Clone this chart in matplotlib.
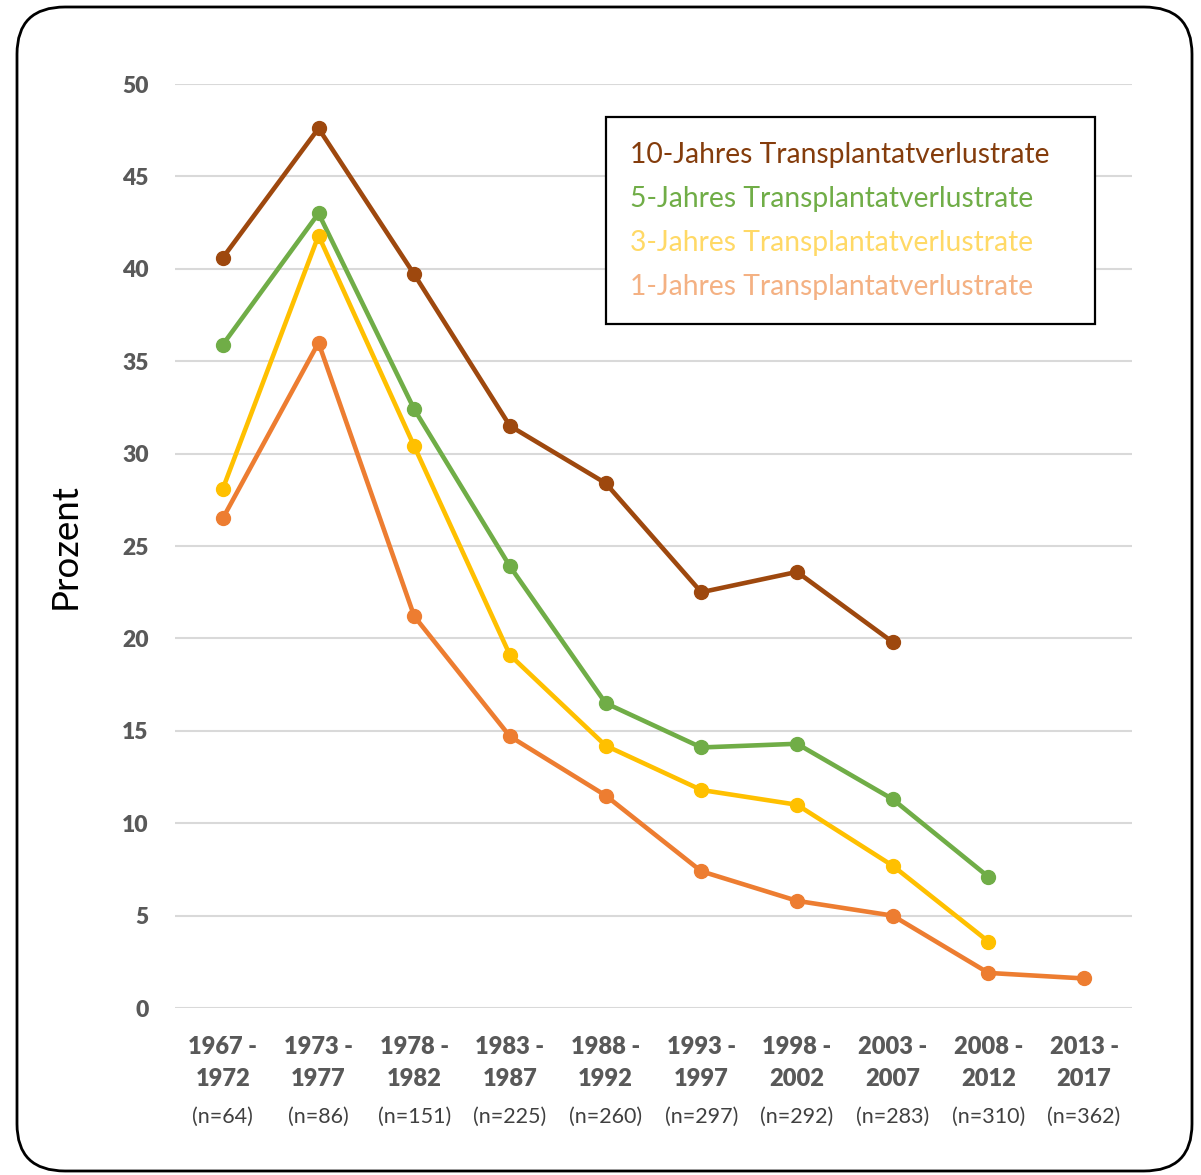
import numpy as np
import matplotlib.pyplot as plt
from matplotlib.patches import FancyBboxPatch, Rectangle

plt.rcParams['font.family'] = ['Lato', 'DejaVu Sans']

# Zeiträume und Fallzahlen
perioden = ["1967 -\n1972", "1973 -\n1977", "1978 -\n1982", "1983 -\n1987", "1988 -\n1992",
            "1993 -\n1997", "1998 -\n2002", "2003 -\n2007", "2008 -\n2012", "2013 -\n2017"]
fallzahlen = ["(n=64)", "(n=86)", "(n=151)", "(n=225)", "(n=260)",
              "(n=297)", "(n=292)", "(n=283)", "(n=310)", "(n=362)"]

# Transplantatverlustraten in Prozent
rate_10j = [40.6, 47.6, 39.7, 31.5, 28.4, 22.5, 23.6, 19.8]
rate_5j = [35.9, 43.0, 32.4, 23.9, 16.5, 14.1, 14.3, 11.3, 7.1]
rate_3j = [28.1, 41.8, 30.4, 19.1, 14.2, 11.8, 11.0, 7.7, 3.6]
rate_1j = [26.5, 36.0, 21.2, 14.7, 11.5, 7.4, 5.8, 5.0, 1.9, 1.6]

serien = [
    ("10-Jahres Transplantatverlustrate", rate_10j, "#9E480E", "#843C0C"),
    ("5-Jahres Transplantatverlustrate", rate_5j, "#70AD47", "#70AD47"),
    ("3-Jahres Transplantatverlustrate", rate_3j, "#FFC000", "#FFD966"),
    ("1-Jahres Transplantatverlustrate", rate_1j, "#ED7D31", "#F4B183"),
]

fig = plt.figure(figsize=(12.01, 11.75), dpi=100)
ax = fig.add_axes([0.1457, 0.1421, 0.7968, 0.7864])

# abgerundeter Rahmen um die Grafik
rahmen = FancyBboxPatch((17 / 1201, 4 / 1175), 1175 / 1201, 1164 / 1175,
                        boxstyle="round,pad=0,rounding_size=0.04",
                        transform=fig.transFigure, fill=False,
                        edgecolor="black", linewidth=2, zorder=0)
fig.patches.append(rahmen)

for name, werte, farbe, _ in serien:
    x = np.arange(len(werte))
    ax.plot(x, werte, color=farbe, linewidth=3.3, marker="o",
            markersize=10, solid_capstyle="round", zorder=3)

ax.set_xlim(-0.5, 9.5)
ax.set_ylim(0, 50)
ax.set_yticks(np.arange(0, 51, 5))
ax.grid(axis="y", color="#D9D9D9", linewidth=1.5)
ax.set_axisbelow(True)
for s in ax.spines.values():
    s.set_visible(False)
ax.tick_params(length=0)
ax.tick_params(axis="y", labelsize=16.5, labelcolor="#595959", pad=19)
for lbl in ax.get_yticklabels():
    lbl.set_fontweight("heavy")

ax.set_xticks(np.arange(len(perioden)))
ax.set_xticklabels(perioden, fontsize=17, fontweight="heavy", color="#595959",
                   linespacing=1.55)
ax.tick_params(axis="x", pad=20)
for i, n in enumerate(fallzahlen):
    ax.text(i, -0.118, n, transform=ax.get_xaxis_transform(), ha="center",
            va="center", fontsize=15.5, color="#404040")

ax.set_ylabel("Prozent", fontsize=26.5, labelpad=29)

# Legende als Textkasten (nur farbiger Text, keine Symbole)
box = Rectangle((0.4504, 0.7403), 0.5109, 0.224, transform=ax.transAxes,
                facecolor="white", edgecolor="black", linewidth=1.6, zorder=5)
ax.add_patch(box)
y0, dy = 0.9232, 0.0476
for k, (name, _, _, textfarbe) in enumerate(serien):
    ax.text(0.4754, y0 - k * dy, name, transform=ax.transAxes, ha="left",
            va="center", fontsize=20.3, color=textfarbe, zorder=6)

fig.savefig("out.png", dpi=100)
